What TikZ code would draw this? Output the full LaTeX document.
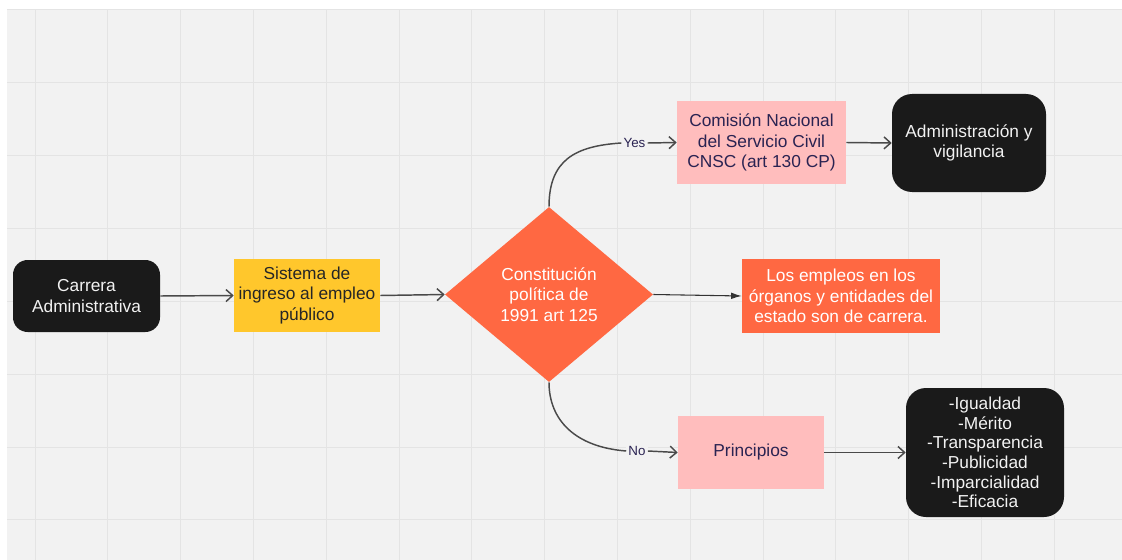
\documentclass[tikz,border=0pt]{standalone}
\usepackage{fontspec}
\setmainfont{Liberation Sans}
\usetikzlibrary{shapes.geometric,arrows.meta}
\definecolor{bgc}{HTML}{F2F2F2}
\definecolor{gridc}{HTML}{E4E4E4}
\definecolor{darkbox}{HTML}{1A1A1A}
\definecolor{lighttext}{HTML}{F2F2F2}
\definecolor{yellowbox}{HTML}{FFC72C}
\definecolor{orangebox}{HTML}{FF6842}
\definecolor{pinkbox}{HTML}{FFBDBD}
\definecolor{navytext}{HTML}{2A2352}
\definecolor{edgec}{HTML}{4A4A4A}
\begin{document}
\begin{tikzpicture}[x=0.75pt,y=-0.75pt,
  font=\fontsize{13}{15.5}\selectfont,
  gridline/.style={draw=gridc,line width=0.75pt},
  darkrounded/.style={fill=darkbox,text=lighttext,align=center,inner sep=0pt},
  plainbox/.style={align=center,inner sep=0pt},
  conn/.style={draw=edgec,line width=1.1pt,-{Straight Barb[length=5pt,width=9pt]}},
  plainline/.style={draw=edgec,line width=1.1pt},
  lbl/.style={fill=bgc,text=navytext,font=\fontsize{10}{12}\selectfont,inner sep=1.5pt}]
\useasboundingbox (0,0) rectangle (1122,560);
\fill[white] (0,0) rectangle (1122,560);
\fill[bgc] (7,10) rectangle (1122,560);
\foreach \i in {0,...,14} \draw[gridline] ({35+72.8*\i},10) -- ({35+72.8*\i},560);
\foreach \j in {0,...,6} \draw[gridline] (7,{83+72.8*\j}) -- (1122,{83+72.8*\j});
\draw[gridline] (7,10) -- (1122,10);

\node[darkrounded,rounded corners=11pt,minimum width=110.25pt,minimum height=54pt] (car) at (86.5,296) {Carrera\\Administrativa};
\node[plainbox,fill=yellowbox,text=black!85,minimum width=109.5pt,minimum height=54.75pt] (sis) at (307,295.5) {Sistema de\\ingreso al empleo\\público};
\node[diamond,fill=orangebox,text=white,align=center,inner sep=0pt,minimum width=156pt,minimum height=131.25pt] (con) at (549,294.5) {Constitución\\política de\\1991 art 125};
\node[plainbox,fill=pinkbox,text=navytext,minimum width=126.75pt,minimum height=62.25pt] (com) at (761.5,142.5) {Comisión Nacional\\del Servicio Civil\\CNSC (art 130 CP)};
\node[darkrounded,rounded corners=15pt,minimum width=115.5pt,minimum height=73.5pt] (adm) at (969,143) {Administración y\\vigilancia};
\node[plainbox,fill=orangebox,text=white,minimum width=148.5pt,minimum height=55.5pt] (emp) at (841,296) {Los empleos en los\\órganos y entidades del\\estado son de carrera.};
\node[plainbox,fill=pinkbox,text=navytext,minimum width=109.5pt,minimum height=54.75pt] (pri) at (751,452.5) {Principios};
\node[darkrounded,rounded corners=15pt,minimum width=118.5pt,minimum height=96.75pt,font=\fontsize{13}{14.7}\selectfont] (lst) at (985,452.5) {-Igualdad\\-Mérito\\-Transparencia\\-Publicidad\\-Imparcialidad\\-Eficacia};

\node[lbl] (yes) at (634.5,143) {Yes};
\node[lbl] (no) at (637,451) {No};

\draw[conn] (car.east) -- (sis.west);
\draw[conn] (sis.east) -- (con.west);
\draw[plainline] (con.north) .. controls (549,160) and (575,146) .. (yes.west);
\draw[conn] (yes.east) -- (com.west);
\draw[plainline] (con.south) .. controls (549,420) and (575,447) .. (no.west);
\draw[conn] (no.east) -- (pri.west);
\draw[draw=black!80,line width=0.8pt,-{Latex[length=8pt,width=5pt]}] (con.east) -- (emp.west);
\draw[conn] (com.east) -- (adm.west);
\draw[conn] (pri.east) -- (lst.west);
\end{tikzpicture}
\end{document}
